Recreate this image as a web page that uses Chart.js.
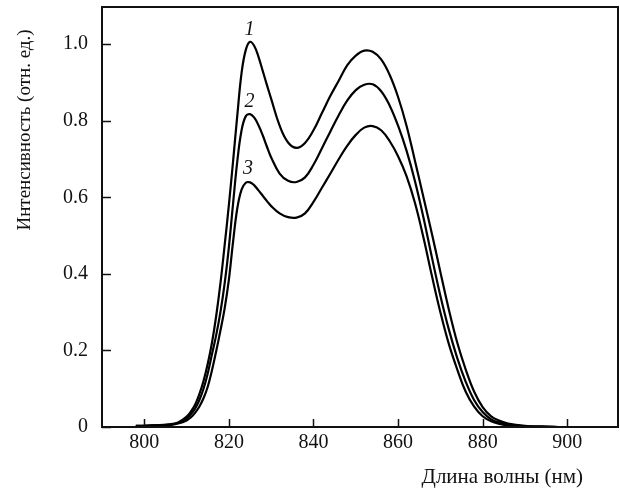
<!DOCTYPE html>
<html>
<head>
<meta charset="utf-8">
<script src="https://cdn.jsdelivr.net/npm/chart.js@4"></script>
<style>
  body { margin: 0; background: #fff; }
</style>
</head>
<body>
<canvas id="spectra" width="620" height="488"></canvas>
<script>
// длины волн, нм
const wavelengths = [798, 802, 806, 808,
  810, 811, 812, 813, 814, 815, 816, 817, 818, 819, 820,
  821, 822, 823, 824, 825, 826, 827, 828, 829, 830,
  832, 834, 836, 838, 840, 842, 844, 846, 848, 850, 852, 854, 856, 858,
  860, 862, 864, 866, 868, 870, 872, 874, 876, 878, 880, 882, 884, 886,
  890, 894, 898];

const curve1 = [0.003, 0.004, 0.007, 0.012,
  0.027, 0.04, 0.058, 0.085, 0.12, 0.165, 0.22, 0.29, 0.375, 0.475, 0.58,
  0.695, 0.815, 0.925, 0.985, 1.006, 0.995, 0.967, 0.93, 0.893, 0.857,
  0.787, 0.743, 0.729, 0.742, 0.775, 0.82, 0.865, 0.905, 0.945, 0.97, 0.983, 0.98, 0.96, 0.92,
  0.862, 0.787, 0.695, 0.6, 0.505, 0.405, 0.307, 0.22, 0.15, 0.092, 0.052, 0.028, 0.016, 0.009,
  0.003, 0.001, 0];

const curve2 = [0.003, 0.004, 0.006, 0.011,
  0.022, 0.033, 0.048, 0.07, 0.1, 0.14, 0.19, 0.24, 0.3, 0.375, 0.47,
  0.585, 0.695, 0.775, 0.812, 0.817, 0.808, 0.788, 0.762, 0.732, 0.704,
  0.662, 0.643, 0.64, 0.652, 0.685, 0.728, 0.772, 0.815, 0.853, 0.88, 0.894, 0.895, 0.877, 0.84,
  0.787, 0.722, 0.642, 0.547, 0.443, 0.343, 0.255, 0.18, 0.118, 0.07, 0.039, 0.02, 0.011, 0.006,
  0.002, 0.001, 0];

const curve3 = [0.002, 0.003, 0.005, 0.009,
  0.017, 0.025, 0.037, 0.053, 0.075, 0.105, 0.148, 0.198, 0.252, 0.31, 0.385,
  0.485, 0.572, 0.62, 0.638, 0.639, 0.631, 0.618, 0.604, 0.59, 0.577,
  0.558, 0.548, 0.547, 0.558, 0.588, 0.625, 0.662, 0.7, 0.735, 0.763, 0.782, 0.786, 0.775, 0.747,
  0.707, 0.655, 0.585, 0.495, 0.395, 0.3, 0.217, 0.15, 0.092, 0.053, 0.028, 0.015, 0.008, 0.004,
  0.002, 0.001, 0];

const xTicks = [800, 820, 840, 860, 880, 900];
const yTicks = [0, 0.2, 0.4, 0.6, 0.8, 1.0];

// номера кривых и где их подписать (в единицах данных)
const curveNames = ['1', '2', '3'];
const nameX = [824.9, 824.9, 824.5];
const nameY = [1.023, 0.835, 0.661];

const serif = '"Liberation Serif", "Times New Roman", serif';

function toPoints(vals) {
  return vals.map(function (v, i) { return { x: wavelengths[i], y: v }; });
}

const decor = {
  id: 'decor',
  afterDraw: function (chart) {
    const ctx = chart.ctx;
    const a = chart.chartArea;
    const x = chart.scales.x, y = chart.scales.y;
    ctx.save();
    ctx.strokeStyle = '#111';
    ctx.lineWidth = 2;
    ctx.strokeRect(a.left, a.top, a.right - a.left, a.bottom - a.top);

    ctx.lineWidth = 1.5;
    ctx.beginPath();
    xTicks.forEach(function (v) {
      const px = Math.round(x.getPixelForValue(v)) + 0.5;
      ctx.moveTo(px, a.bottom);
      ctx.lineTo(px, a.bottom - 8);
    });
    yTicks.forEach(function (v) {
      const py = Math.round(y.getPixelForValue(v)) + 0.5;
      ctx.moveTo(a.left, py);
      ctx.lineTo(a.left + 9, py);
    });
    ctx.stroke();

    ctx.fillStyle = '#111';
    ctx.font = 'italic 20px ' + serif;
    ctx.textAlign = 'center';
    ctx.textBaseline = 'alphabetic';
    curveNames.forEach(function (t, i) {
      ctx.fillText(t, x.getPixelForValue(nameX[i]), y.getPixelForValue(nameY[i]));
    });

    ctx.font = '21px ' + serif;
    ctx.textAlign = 'right';
    ctx.textBaseline = 'middle';
    ctx.fillText('Длина волны (нм)', 583, 477);

    ctx.font = '19px ' + serif;
    ctx.translate(25, 130);
    ctx.rotate(-Math.PI / 2);
    ctx.textAlign = 'center';
    ctx.fillText('Интенсивность (отн. ед.)', 0, 0);
    ctx.restore();
  }
};

const lineStyle = {
  borderColor: '#000',
  borderWidth: 2.2,
  pointRadius: 0,
  fill: false,
  tension: 0.4
};

new Chart(document.getElementById('spectra'), {
  type: 'line',
  data: {
    datasets: [
      Object.assign({ label: '1', data: toPoints(curve1) }, lineStyle),
      Object.assign({ label: '2', data: toPoints(curve2) }, lineStyle),
      Object.assign({ label: '3', data: toPoints(curve3) }, lineStyle)
    ]
  },
  options: {
    responsive: false,
    animation: false,
    layout: { padding: { top: 7, right: 2, left: 0, bottom: 0 } },
    plugins: { legend: { display: false }, tooltip: { enabled: false } },
    scales: {
      x: {
        type: 'linear',
        min: 790,
        max: 912,
        afterBuildTicks: function (s) { s.ticks = xTicks.map(function (v) { return { value: v }; }); },
        afterFit: function (s) { s.height = 61; s.paddingLeft = 0; s.paddingRight = 0; },
        grid: { display: false, drawTicks: false },
        border: { display: false },
        ticks: { color: '#111', padding: 4, font: { family: serif, size: 20 } }
      },
      y: {
        min: 0,
        max: 1.097,
        afterBuildTicks: function (s) { s.ticks = yTicks.map(function (v) { return { value: v }; }); },
        afterFit: function (s) { s.width = 102; s.paddingTop = 0; s.paddingBottom = 0; },
        grid: { display: false, drawTicks: false },
        border: { display: false },
        ticks: {
          color: '#111',
          padding: 14,
          font: { family: serif, size: 20 },
          callback: function (v) { return v === 0 ? '0' : v.toFixed(1); }
        }
      }
    }
  },
  plugins: [decor]
});
</script>
</body>
</html>
